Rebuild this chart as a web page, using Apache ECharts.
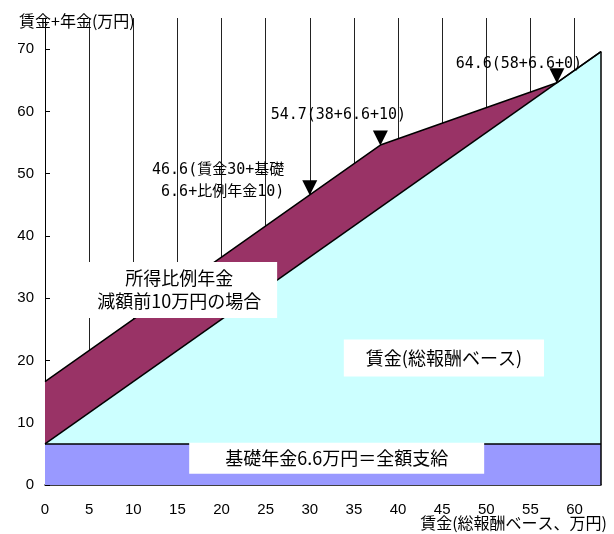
<!DOCTYPE html>
<html>
<head>
<meta charset="utf-8">
<script src="https://cdn.jsdelivr.net/npm/echarts@6/dist/echarts.min.js"></script>
<style>
html, body { margin: 0; padding: 0; background: #fff; }
#chart { width: 614px; height: 534px; }
</style>
</head>
<body>
<div id="chart"></div>
<script>
// 賃金(総報酬ベース、万円) の折れ点
var wage = [0, 30, 38, 58, 63];
// 基礎年金(万円)
var basicPension = 6.6;
// 所得比例年金(万円) 各折れ点
var propPension = [10, 10, 10, 0, 0];
// 注記をつける折れ点 (wage の番号) と注記
var markIdx = [1, 2, 3];
var markText = ['46.6(賃金30+基礎\n6.6+比例年金10)', '54.7(38+6.6+10)', '64.6(58+6.6+0)'];
// 目盛
var xTicks = [0, 5, 10, 15, 20, 25, 30, 35, 40, 45, 50, 55, 60];
var yTicks = [0, 10, 20, 30, 40, 50, 60, 70];
// 枠内の説明
var noteText = ['所得比例年金\n減額前10万円の場合', '賃金(総報酬ベース)', '基礎年金6.6万円＝全額支給'];

var cjk = '"Noto Sans CJK JP", sans-serif';
var mono = '"DejaVu Sans Mono", "Noto Sans CJK JP", monospace';
var xMax = wage[wage.length - 1];

var chart = echarts.init(document.getElementById('chart'));

// 折れ線を組み立てる
var topLine = wage.map(function(w, i) { return [w, w + basicPension + propPension[i]]; });
var wageLine = [[wage[0], wage[0] + basicPension], [xMax, xMax + basicPension]];
var baseLine = [[wage[0], basicPension], [xMax, basicPension]];
var edgeLine = [[xMax, 0], [xMax, xMax + basicPension]];

// 注記の置き方
var markLabel = [
    { position: 'left', distance: 18, offset: [0, -7] },
    { position: 'top', distance: 6, offset: [-42, 2] },
    { position: 'top', distance: 0, offset: [-38, 7] }
];
var markData = markIdx.map(function(idx, k) {
    return {
        value: topLine[idx],
        label: Object.assign({ formatter: markText[k] }, markLabel[k])
    };
});

var notePos = [[15.2, 31.3], [45.2, 20.4], [33.05, 4.3]];
var notePad = [[5, 16], [7, 22], [4, 36]];
var noteData = noteText.map(function(t, k) {
    return {
        value: notePos[k],
        label: { formatter: t, padding: notePad[k] }
    };
});

var option = {
    animation: false,
    backgroundColor: '#fff',
    title: [{
        text: '賃金+年金(万円)',
        left: 14,
        top: 8,
        textStyle: { fontFamily: cjk, fontSize: 16, fontWeight: 'normal', color: '#000' }
    }, {
        text: '賃金(総報酬ベース、万円)',
        right: 2,
        top: 510,
        textStyle: { fontFamily: cjk, fontSize: 16, fontWeight: 'normal', color: '#000' }
    }],
    grid: { left: 45, right: 13, top: 18, bottom: 49 },
    xAxis: {
        type: 'value',
        min: 0,
        max: xMax,
        interval: 5,
        axisLine: { lineStyle: { color: '#000', width: 1.5 } },
        axisTick: { inside: true, length: 5, lineStyle: { color: '#000' } },
        axisLabel: {
            margin: 17,
            fontSize: 15,
            color: '#000',
            fontFamily: '"Liberation Sans", Arial, sans-serif',
            showMaxLabel: false,
            formatter: function(v) { return xTicks.indexOf(v) >= 0 ? String(v) : ''; }
        },
        splitLine: { show: true, showMaxLine: false, lineStyle: { color: '#222', width: 1 } }
    },
    yAxis: {
        type: 'value',
        min: 0,
        max: 75,
        interval: 10,
        axisLine: { show: true, lineStyle: { color: '#000', width: 1 } },
        axisTick: { show: true, inside: true, length: 5, lineStyle: { color: '#000' } },
        axisLabel: {
            margin: 11,
            fontSize: 15,
            color: '#000',
            fontFamily: '"Liberation Sans", Arial, sans-serif',
            showMaxLabel: false,
            formatter: function(v) { return yTicks.indexOf(v) >= 0 ? String(v) : ''; }
        },
        splitLine: { show: false }
    },
    series: [{
        name: '所得比例年金',
        type: 'line',
        data: topLine,
        symbol: 'none',
        lineStyle: { color: '#000', width: 1.5 },
        areaStyle: { color: '#993366', opacity: 1 }
    }, {
        name: '賃金',
        type: 'line',
        data: wageLine,
        symbol: 'none',
        lineStyle: { color: '#000', width: 1.5 },
        areaStyle: { color: '#ccffff', opacity: 1 }
    }, {
        name: '基礎年金',
        type: 'line',
        data: baseLine,
        symbol: 'none',
        lineStyle: { color: '#000', width: 1.5 },
        areaStyle: { color: '#9999ff', opacity: 1 }
    }, {
        name: 'edge',
        type: 'line',
        data: edgeLine,
        symbol: 'none',
        lineStyle: { color: '#000', width: 1.5 }
    }, {
        name: 'marks',
        type: 'scatter',
        data: markData,
        symbol: 'triangle',
        symbolRotate: 180,
        symbolSize: [15, 15],
        symbolOffset: [0, -7],
        itemStyle: { color: '#000', opacity: 1 },
        label: {
            show: true,
            fontFamily: mono,
            fontSize: 15,
            lineHeight: 22,
            color: '#000'
        },
        z: 5
    }, {
        name: 'notes',
        type: 'scatter',
        data: noteData,
        symbolSize: 1,
        itemStyle: { color: '#fff', opacity: 1 },
        label: {
            show: true,
            position: 'inside',
            fontFamily: cjk,
            fontSize: 18,
            lineHeight: 23,
            color: '#000',
            backgroundColor: '#fff'
        },
        z: 6
    }]
};

chart.setOption(option);
</script>
</body>
</html>
